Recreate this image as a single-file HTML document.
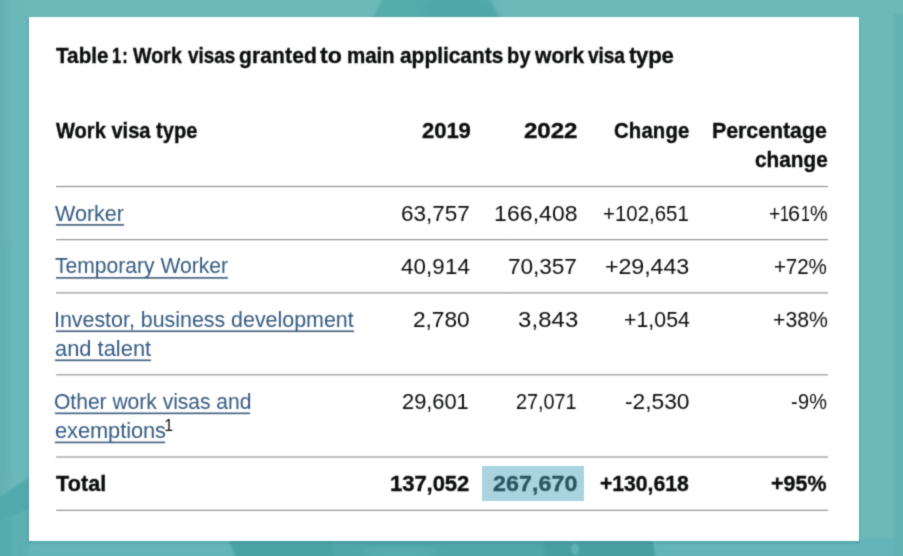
<!DOCTYPE html><html><head><meta charset="utf-8"><title>Table 1</title><style>
html,body{margin:0;padding:0}
body{width:903px;height:556px;overflow:hidden;position:relative;background:#6cb9b9;font-family:"Liberation Sans",sans-serif;}
.bg{position:absolute;left:0;top:0;width:903px;height:556px;overflow:hidden}
.card{position:absolute;left:29px;top:17px;width:830px;height:524px;background:#fff}
.t{position:absolute;white-space:nowrap;line-height:30px;height:30px;font-kerning:normal}
.b{font-weight:700;-webkit-text-stroke:0.35px currentColor}
._u{text-decoration:underline;text-decoration-thickness:2px;text-underline-offset:3.6px;text-decoration-skip-ink:none;text-decoration-color:#6c89a7}
.content{position:absolute;left:0;top:0;width:903px;height:556px;filter:url(#soft)}
.ln{position:absolute;left:56px;width:772px;height:1px;background:#b4b6b7}
.hl{position:absolute;left:482px;top:466px;width:102px;height:35px;background:#a9d3de}
sup{position:absolute;color:#0b0c0c}
</style></head><body>
<svg class="bg" width="903" height="556" viewBox="0 0 903 556">
<defs>
<filter id="b1" x="-10%" y="-10%" width="120%" height="120%"><feGaussianBlur stdDeviation="1.2"/></filter>
<filter id="b2" x="-10%" y="-10%" width="120%" height="120%"><feGaussianBlur stdDeviation="2"/></filter>
<filter id="b3" x="-10%" y="-10%" width="120%" height="120%"><feGaussianBlur stdDeviation="3"/></filter>
<linearGradient id="lg" x1="0" y1="0" x2="1" y2="0"><stop offset="0" stop-color="#61b0b2"/><stop offset="0.4" stop-color="#6bb8b9"/><stop offset="1" stop-color="#6cb9b9"/></linearGradient>
</defs>
<rect width="903" height="556" fill="#6cb9b9"/>
<!-- left strip subtle -->
<rect x="0" y="0" width="30" height="556" fill="url(#lg)"/>
<rect x="-4" y="240" width="14" height="240" fill="#62b1b3" filter="url(#b3)"/>
<!-- top blob -->
<polygon points="372,19 383,-2 488,-2 501,19" fill="#57abab" filter="url(#b1)"/>
<polygon points="420,19 430,-2 488,-2 498,19" fill="#50a7a8" filter="url(#b3)"/>
<!-- bottom-left -->
<polygon points="-3,499 32,476 32,560 -3,560" fill="#5cb0b2" filter="url(#b1)"/>
<polygon points="-3,499 32,476 32,507 -3,523" fill="#52a9ab" filter="url(#b1)"/>
<polygon points="-3,523 11,516 11,560 -3,560" fill="#55abad" filter="url(#b1)"/>
<polygon points="28,541 240,541 240,560 28,560" fill="#64b5b7" filter="url(#b3)"/>
<!-- bottom band -->
<polygon points="228,538 236,560 660,560 652,538" fill="#4fa7a9" filter="url(#b1)"/>
<polygon points="232,538 238,560 335,560 330,538" fill="#48a3a5" filter="url(#b1)"/>
<polygon points="543,538 545,560 656,560 652,538" fill="#469fa2" filter="url(#b1)"/>
<ellipse cx="575" cy="549" rx="4" ry="6" fill="#5fb2b4" filter="url(#b1)"/>
<ellipse cx="400" cy="552" rx="40" ry="4" fill="#5bafb1" filter="url(#b3)"/>
<polygon points="653,538 656,560 903,560 903,538" fill="#63b5b8" filter="url(#b1)"/>
<!-- right darker strip -->
<rect x="894" y="14" width="12" height="546" fill="#62b2b4" filter="url(#b1)"/>
<!-- card shadow -->
<rect x="27.5" y="17" width="832.5" height="526.5" fill="#2f7f84" opacity="0.26" filter="url(#b1)"/>
</svg>

<svg width="0" height="0" style="position:absolute"><defs><filter id="soft" x="0" y="0" width="100%" height="100%" color-interpolation-filters="sRGB"><feConvolveMatrix order="3" kernelMatrix="1 4 1 4 16 4 1 4 1" edgeMode="none" preserveAlpha="false"/></filter></defs></svg>
<div class="content">
<div class="card"></div>
<div style="position:absolute;left:56px;top:185px;width:772px;height:3px;background:linear-gradient(to bottom,rgba(138,141,144,0.07) 0px,rgba(138,141,144,0.07) 1px,rgba(138,141,144,1.00) 1px,rgba(138,141,144,1.00) 2px,rgba(138,141,144,0.07) 2px,rgba(138,141,144,0.07) 3px)"></div>
<div style="position:absolute;left:56px;top:239px;width:772px;height:2px;background:linear-gradient(to bottom,rgba(138,141,144,0.92) 0px,rgba(138,141,144,0.92) 1px,rgba(138,141,144,0.22) 1px,rgba(138,141,144,0.22) 2px)"></div>
<div style="position:absolute;left:56px;top:292px;width:772px;height:2px;background:linear-gradient(to bottom,rgba(138,141,144,0.68) 0px,rgba(138,141,144,0.68) 1px,rgba(138,141,144,0.47) 1px,rgba(138,141,144,0.47) 2px)"></div>
<div style="position:absolute;left:56px;top:374px;width:772px;height:2px;background:linear-gradient(to bottom,rgba(138,141,144,0.77) 0px,rgba(138,141,144,0.77) 1px,rgba(138,141,144,0.38) 1px,rgba(138,141,144,0.38) 2px)"></div>
<div style="position:absolute;left:56px;top:456px;width:772px;height:2px;background:linear-gradient(to bottom,rgba(138,141,144,0.57) 0px,rgba(138,141,144,0.57) 1px,rgba(138,141,144,0.57) 1px,rgba(138,141,144,0.57) 2px)"></div>
<div style="position:absolute;left:56px;top:509px;width:772px;height:2px;background:linear-gradient(to bottom,rgba(138,141,144,0.27) 0px,rgba(138,141,144,0.27) 1px,rgba(138,141,144,0.88) 1px,rgba(138,141,144,0.88) 2px)"></div>
<div class="hl"></div>
<div class="t b" style="left:56.00px;top:40.90px;font-size:21.50px;letter-spacing:0.052px;color:#0b0c0c;transform:scaleX(0.9593);transform-origin:0 0">Table</div>
<div class="t b" style="left:111.80px;top:40.90px;font-size:21.50px;letter-spacing:1.308px;color:#0b0c0c;transform:scaleX(0.7647);transform-origin:0 0">1:</div>
<div class="t b" style="left:132.80px;top:40.90px;font-size:21.50px;letter-spacing:0.074px;color:#0b0c0c;transform:scaleX(0.913);transform-origin:0 0">Work</div>
<div class="t b" style="left:188.40px;top:40.90px;font-size:21.50px;letter-spacing:0.000px;color:#0b0c0c;transform:scaleX(0.8774);transform-origin:0 0">visas</div>
<div class="t b" style="left:239.40px;top:40.90px;font-size:21.50px;letter-spacing:0.136px;color:#0b0c0c;transform:scaleX(0.9766);transform-origin:0 0">granted</div>
<div class="t b" style="left:320.40px;top:40.90px;font-size:21.50px;letter-spacing:-0.000px;color:#0b0c0c;transform:scaleX(1.075);transform-origin:0 0">to</div>
<div class="t b" style="left:347.40px;top:40.90px;font-size:21.50px;letter-spacing:-0.140px;color:#0b0c0c;transform:scaleX(0.9563);transform-origin:0 0">main</div>
<div class="t b" style="left:400.00px;top:40.90px;font-size:21.50px;letter-spacing:0.000px;color:#0b0c0c;transform:scaleX(0.9717);transform-origin:0 0">applicants</div>
<div class="t b" style="left:507.40px;top:40.90px;font-size:21.50px;letter-spacing:0.216px;color:#0b0c0c;transform:scaleX(0.9292);transform-origin:0 0">by</div>
<div class="t b" style="left:535.20px;top:40.90px;font-size:21.50px;letter-spacing:0.069px;color:#0b0c0c;transform:scaleX(0.976);transform-origin:0 0">work</div>
<div class="t b" style="left:588.00px;top:40.90px;font-size:21.50px;letter-spacing:-0.076px;color:#0b0c0c;transform:scaleX(0.8857);transform-origin:0 0">visa</div>
<div class="t b" style="left:629.20px;top:40.90px;font-size:21.50px;letter-spacing:-0.258px;color:#0b0c0c;transform:scaleX(1.0302);transform-origin:0 0">type</div>
<div class="t b" style="left:56.40px;top:115.70px;font-size:21.50px;letter-spacing:0.000px;color:#0b0c0c;transform:scaleX(0.9338);transform-origin:0 0">Work visa type</div>
<div class="t b" style="left:421.60px;top:116.10px;font-size:21.50px;letter-spacing:-0.065px;color:#0b0c0c;transform:scaleX(1.0255);transform-origin:0 0">2019</div>
<div class="t b" style="left:523.60px;top:116.10px;font-size:21.50px;letter-spacing:-0.059px;color:#0b0c0c;transform:scaleX(1.12);transform-origin:0 0">2022</div>
<div class="t b" style="left:613.80px;top:116.10px;font-size:21.50px;letter-spacing:0.170px;color:#0b0c0c;transform:scaleX(0.9449);transform-origin:0 0">Change</div>
<div class="t b" style="left:712.40px;top:116.10px;font-size:21.50px;letter-spacing:-0.068px;color:#0b0c0c;transform:scaleX(0.9965);transform-origin:0 0">Percentage</div>
<div class="t b" style="left:755.20px;top:145.10px;font-size:21.50px;letter-spacing:0.041px;color:#0b0c0c;transform:scaleX(0.9635);transform-origin:0 0">change</div>
<div class="t u" style="left:55.20px;top:198.80px;font-size:22.00px;letter-spacing:-0.000px;color:#345a80;transform:scaleX(0.9783);transform-origin:0 0">Worker</div>
<div class="t" style="left:401.00px;top:198.80px;font-size:22.00px;letter-spacing:-0.000px;color:#0b0c0c;transform:scaleX(1.0231);transform-origin:0 0">63,757</div>
<div class="t" style="left:494.20px;top:198.80px;font-size:22.00px;letter-spacing:0.096px;color:#0b0c0c;transform:scaleX(1.0442);transform-origin:0 0">166,408</div>
<div class="t" style="left:602.80px;top:198.80px;font-size:22.00px;letter-spacing:0.030px;color:#0b0c0c;transform:scaleX(0.9264);transform-origin:0 0">+102,651</div>
<div class="t" style="left:768.65px;top:198.80px;font-size:22.00px;letter-spacing:0.000px;color:#0b0c0c;transform:scaleX(0.88);transform-origin:0 0">+</div>
<div class="t" style="left:779.50px;top:198.80px;font-size:22.00px;letter-spacing:0.000px;color:#0b0c0c;transform:scaleX(0.72);transform-origin:0 0">1</div>
<div class="t" style="left:788.45px;top:198.80px;font-size:22.00px;letter-spacing:0.000px;color:#0b0c0c;transform:scaleX(0.98);transform-origin:0 0">6</div>
<div class="t" style="left:800.95px;top:198.80px;font-size:22.00px;letter-spacing:0.000px;color:#0b0c0c;transform:scaleX(0.72);transform-origin:0 0">1</div>
<div class="t" style="left:810.15px;top:198.80px;font-size:22.00px;letter-spacing:0.000px;color:#0b0c0c;transform:scaleX(0.9);transform-origin:0 0">%</div>
<div class="t u" style="left:55.20px;top:251.20px;font-size:22.00px;letter-spacing:0.000px;color:#345a80;transform:scaleX(0.9581);transform-origin:0 0">Temporary Worker</div>
<div class="t" style="left:400.60px;top:251.50px;font-size:22.00px;letter-spacing:0.118px;color:#0b0c0c;transform:scaleX(1.0136);transform-origin:0 0">40,914</div>
<div class="t" style="left:508.20px;top:251.50px;font-size:22.00px;letter-spacing:-0.076px;color:#0b0c0c;transform:scaleX(1.0292);transform-origin:0 0">70,357</div>
<div class="t" style="left:605.20px;top:251.50px;font-size:22.00px;letter-spacing:-0.064px;color:#0b0c0c;transform:scaleX(1.0564);transform-origin:0 0">+29,443</div>
<div class="t" style="left:774.20px;top:251.50px;font-size:22.00px;letter-spacing:-0.142px;color:#0b0c0c;transform:scaleX(0.9345);transform-origin:0 0">+72%</div>
<div class="t u" style="left:54.20px;top:304.70px;font-size:22.00px;letter-spacing:-0.020px;color:#345a80;transform:scaleX(0.9741);transform-origin:0 0">Investor, business development</div>
<div class="t u" style="left:55.00px;top:334.10px;font-size:22.00px;letter-spacing:0.024px;color:#345a80;transform:scaleX(0.9926);transform-origin:0 0">and talent</div>
<div class="t" style="left:412.80px;top:304.90px;font-size:22.00px;letter-spacing:-0.049px;color:#0b0c0c;transform:scaleX(1.0321);transform-origin:0 0">2,780</div>
<div class="t" style="left:518.00px;top:304.90px;font-size:22.00px;letter-spacing:0.092px;color:#0b0c0c;transform:scaleX(1.0868);transform-origin:0 0">3,843</div>
<div class="t" style="left:623.80px;top:304.90px;font-size:22.00px;letter-spacing:0.043px;color:#0b0c0c;transform:scaleX(0.9667);transform-origin:0 0">+1,054</div>
<div class="t" style="left:772.60px;top:304.90px;font-size:22.00px;letter-spacing:0.000px;color:#0b0c0c;transform:scaleX(0.9636);transform-origin:0 0">+38%</div>
<div class="t u" style="left:54.40px;top:386.90px;font-size:22.00px;letter-spacing:-0.033px;color:#345a80;transform:scaleX(0.9586);transform-origin:0 0">Other work visas and</div>
<div class="t u" style="left:54.60px;top:415.90px;font-size:22.00px;letter-spacing:-0.068px;color:#345a80;transform:scaleX(0.9918);transform-origin:0 0">exemptions</div>
<div class="t" style="left:402.40px;top:386.80px;font-size:22.00px;letter-spacing:-0.039px;color:#0b0c0c;transform:scaleX(0.9954);transform-origin:0 0">29,601</div>
<div class="t" style="left:515.80px;top:386.80px;font-size:22.00px;letter-spacing:-0.043px;color:#0b0c0c;transform:scaleX(0.9031);transform-origin:0 0">27,071</div>
<div class="t" style="left:625.40px;top:386.80px;font-size:22.00px;letter-spacing:-0.037px;color:#0b0c0c;transform:scaleX(1.0367);transform-origin:0 0">-2,530</div>
<div class="t" style="left:791.20px;top:386.80px;font-size:22.00px;letter-spacing:0.332px;color:#0b0c0c;transform:scaleX(0.9053);transform-origin:0 0">-9%</div>
<div class="t b" style="left:55.60px;top:468.70px;font-size:21.50px;letter-spacing:0.100px;color:#0b0c0c;transform:scaleX(1.002);transform-origin:0 0">Total</div>
<div class="t b" style="left:390.00px;top:468.70px;font-size:21.50px;letter-spacing:-0.064px;color:#0b0c0c;transform:scaleX(1.025);transform-origin:0 0">137,052</div>
<div class="t b" style="left:493.00px;top:468.70px;font-size:21.50px;letter-spacing:0.060px;color:#2c5560;transform:scaleX(1.0803);transform-origin:0 0">267,670</div>
<div class="t b" style="left:599.60px;top:468.70px;font-size:21.50px;letter-spacing:-0.028px;color:#0b0c0c;transform:scaleX(0.9854);transform-origin:0 0">+130,618</div>
<div class="t b" style="left:771.20px;top:468.70px;font-size:21.50px;letter-spacing:0.067px;color:#0b0c0c;transform:scaleX(0.9964);transform-origin:0 0">+95%</div>
<div class="t" style="left:164.3px;top:410.8px;font-size:16px;color:#0b0c0c">1</div>
<div style="position:absolute;left:56px;top:224px;width:68px;height:2px;background:linear-gradient(to bottom,rgba(60,90,120,0.90) 0px,rgba(60,90,120,0.90) 1px,rgba(60,90,120,0.70) 1px,rgba(60,90,120,0.70) 2px)"></div>
<div style="position:absolute;left:56px;top:277px;width:172px;height:2px;background:linear-gradient(to bottom,rgba(60,90,120,0.90) 0px,rgba(60,90,120,0.90) 1px,rgba(60,90,120,0.70) 1px,rgba(60,90,120,0.70) 2px)"></div>
<div style="position:absolute;left:56px;top:330px;width:298px;height:3px;background:linear-gradient(to bottom,rgba(60,90,120,0.55) 0px,rgba(60,90,120,0.55) 1px,rgba(60,90,120,1.00) 1px,rgba(60,90,120,1.00) 2px,rgba(60,90,120,0.05) 2px,rgba(60,90,120,0.05) 3px)"></div>
<div style="position:absolute;left:55px;top:359px;width:96px;height:3px;background:linear-gradient(to bottom,rgba(60,90,120,0.50) 0px,rgba(60,90,120,0.50) 1px,rgba(60,90,120,1.00) 1px,rgba(60,90,120,1.00) 2px,rgba(60,90,120,0.10) 2px,rgba(60,90,120,0.10) 3px)"></div>
<div style="position:absolute;left:55px;top:412px;width:195px;height:3px;background:linear-gradient(to bottom,rgba(60,90,120,0.45) 0px,rgba(60,90,120,0.45) 1px,rgba(60,90,120,1.00) 1px,rgba(60,90,120,1.00) 2px,rgba(60,90,120,0.15) 2px,rgba(60,90,120,0.15) 3px)"></div>
<div style="position:absolute;left:55px;top:441px;width:110px;height:3px;background:linear-gradient(to bottom,rgba(60,90,120,0.40) 0px,rgba(60,90,120,0.40) 1px,rgba(60,90,120,1.00) 1px,rgba(60,90,120,1.00) 2px,rgba(60,90,120,0.20) 2px,rgba(60,90,120,0.20) 3px)"></div>
</div>
</body></html>
